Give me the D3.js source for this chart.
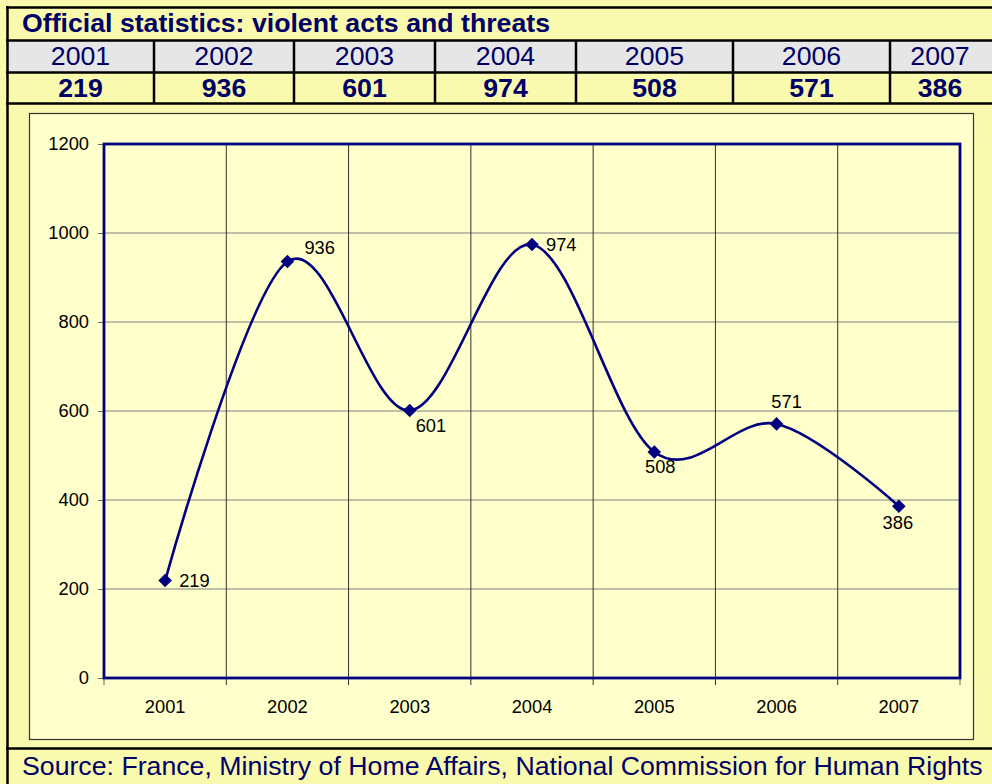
<!DOCTYPE html>
<html><head><meta charset="utf-8">
<script src="https://cdn.jsdelivr.net/npm/d3@7"></script>
<style>
html,body{margin:0;padding:0;background:#FAFAAE;overflow:hidden;}
svg{display:block;font-family:"Liberation Sans",Arial,sans-serif;}
</style></head>
<body>
<svg id="c" width="992" height="784"></svg>
<script>
const titleText = "Official statistics: violent acts and threats";
const sourceText = "Source: France, Ministry of Home Affairs, National Commission for Human Rights";
const years = ["2001","2002","2003","2004","2005","2006","2007"];
const values = [219, 936, 601, 974, 508, 571, 386];
const yTicks = [0, 200, 400, 600, 800, 1000, 1200];
// table column edges (layout)
const colEdges = [7, 154, 294, 435, 576, 733, 890, 990];
// label placement relative to marker (layout)
const labelAnchor = ["start","start","start","start","middle","middle","middle"];
const labelDx = [14, 17, 6, 14, 6, 10, -1];
const labelDy = [6, -7, 21, 6, 21, -16, 23];

const svg = d3.select("#c");
const navy = "#000066";
const yellow = "#FAFAAE";
const bigFont = 26.7;
const smallFont = 18.3;

svg.append("rect").attr("x",0).attr("y",0).attr("width",992).attr("height",784).attr("fill",yellow);

// table rows
svg.append("rect").attr("x",7).attr("y",41).attr("width",990).attr("height",31).attr("fill","#E6E6E6");
svg.append("text").attr("x",22).attr("y",32).attr("fill",navy).attr("font-size",bigFont).attr("font-weight","bold").text(titleText);

const cols = years.map((y,i)=>({y, v: values[i], x0: colEdges[i], x1: colEdges[i+1]}));
svg.selectAll("text.yr").data(cols).join("text").attr("class","yr")
  .attr("x",d=>(d.x0+d.x1)/2).attr("y",65).attr("text-anchor","middle")
  .attr("fill",navy).attr("font-size",bigFont).text(d=>d.y);
svg.selectAll("text.val").data(cols).join("text").attr("class","val")
  .attr("x",d=>(d.x0+d.x1)/2).attr("y",97).attr("text-anchor","middle")
  .attr("fill",navy).attr("font-size",bigFont).attr("font-weight","bold").text(d=>d.v);

const lines = svg.append("g").attr("stroke","#000").attr("stroke-width",2.5);
[7.5, 40.5, 72.5, 103.5, 748.5].forEach(y=>lines.append("line").attr("x1",6).attr("x2",992).attr("y1",y).attr("y2",y));
lines.append("line").attr("x1",7.5).attr("x2",7.5).attr("y1",6).attr("y2",784);
colEdges.slice(1,-1).forEach(x=>lines.append("line").attr("x1",x).attr("x2",x).attr("y1",41).attr("y2",103));

// chart box
svg.append("rect").attr("x",29.5).attr("y",113.5).attr("width",944).attr("height",626)
  .attr("fill","#FFFFCC").attr("stroke","#333").attr("stroke-width",1.2);

// footer
svg.append("text").attr("x",22).attr("y",775).attr("fill",navy).attr("font-size",bigFont).text(sourceText);

// plot
const x = d3.scaleBand().domain(years).range([104,960]).padding(0);
const y = d3.scaleLinear().domain([0,1200]).range([678,144]);

const g = svg.append("g");
g.selectAll("line.hg").data(yTicks.filter(t=>t>0&&t<1200)).join("line").attr("class","hg")
  .attr("x1",104).attr("x2",960).attr("y1",d=>y(d)).attr("y2",d=>y(d))
  .attr("stroke","#808080").attr("stroke-width",1.2);
const bounds = years.slice(1).map(d=>x(d));
g.selectAll("line.vg").data(bounds).join("line").attr("class","vg")
  .attr("x1",d=>d).attr("x2",d=>d).attr("y1",144).attr("y2",685)
  .attr("stroke","#303030").attr("stroke-width",1);
[104,960].forEach(b=>g.append("line").attr("x1",b).attr("x2",b).attr("y1",678).attr("y2",685).attr("stroke","#666").attr("stroke-width",1));

// y axis
const yAxis = d3.axisLeft(y).tickValues(yTicks).tickFormat(d3.format("d")).tickSize(6).tickPadding(9);
const ya = svg.append("g").attr("transform","translate(104,0)").call(yAxis);
ya.select(".domain").remove();
ya.selectAll(".tick line").attr("stroke","#666");
ya.selectAll(".tick text").attr("font-size",smallFont).attr("fill","#000").attr("font-family","Liberation Sans, Arial, sans-serif");

// x axis labels
const xAxis = d3.axisBottom(x).tickSize(0).tickPadding(0);
const xa = svg.append("g").attr("transform","translate(0,678)").call(xAxis);
xa.select(".domain").remove();
xa.selectAll(".tick text").attr("font-size",smallFont).attr("fill","#000").attr("dy",0).attr("y",35)
  .attr("font-family","Liberation Sans, Arial, sans-serif");

// plot frame
svg.append("rect").attr("x",104).attr("y",144).attr("width",856).attr("height",534)
  .attr("fill","none").attr("stroke","#000080").attr("stroke-width",2.8);

// line
const pts = years.map((yr,i)=>({yr, v: values[i], i}));
const cx = d=>x(d.yr)+x.bandwidth()/2;
const line = d3.line().x(cx).y(d=>y(d.v)).curve(d3.curveCatmullRom.alpha(0));
svg.append("path").datum(pts).attr("d",line).attr("fill","none")
  .attr("stroke","#000080").attr("stroke-width",2.6);

// markers
svg.selectAll("path.mk").data(pts).join("path").attr("class","mk")
  .attr("transform",d=>`translate(${cx(d)},${y(d.v)}) rotate(45)`)
  .attr("d",d3.symbol().type(d3.symbolSquare).size(92)).attr("fill","#000080");

// data labels
svg.selectAll("text.lbl").data(pts).join("text").attr("class","lbl")
  .attr("x",d=>cx(d)+labelDx[d.i]).attr("y",d=>y(d.v)+labelDy[d.i])
  .attr("text-anchor",d=>labelAnchor[d.i]).attr("font-size",smallFont).attr("fill","#000")
  .text(d=>d.v);
</script>
</body></html>
